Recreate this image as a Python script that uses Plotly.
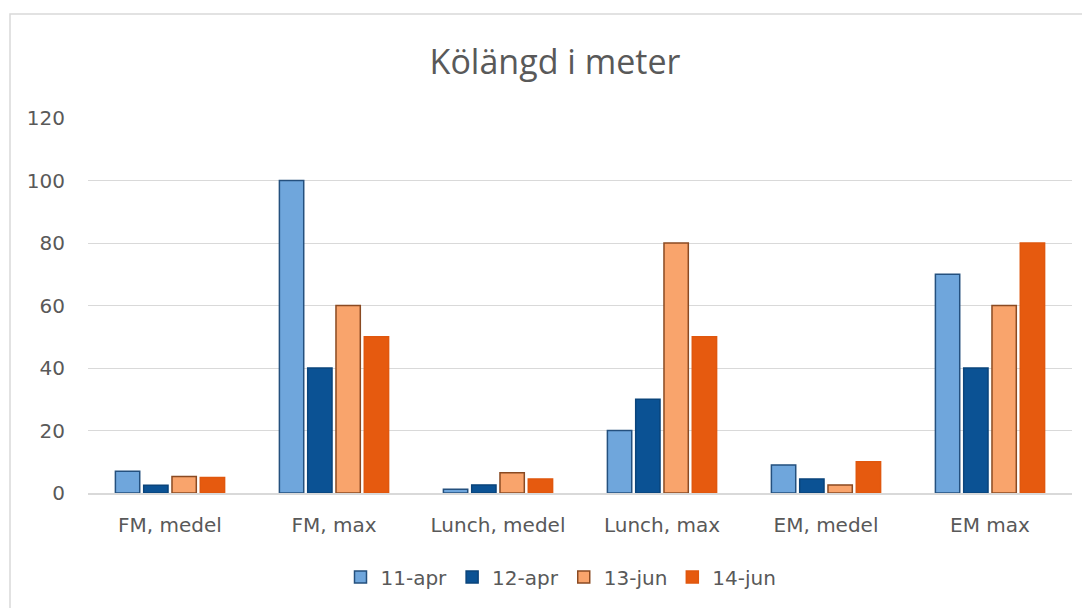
import plotly.graph_objects as go

categories = ["FM, medel", "FM, max", "Lunch, medel", "Lunch, max", "EM, medel", "EM max"]
series_names = ["11-apr", "12-apr", "13-jun", "14-jun"]
s_11apr = [7, 100, 1.2, 20, 9, 70]
s_12apr = [2.5, 40, 2.6, 30, 4.5, 40]
s_13jun = [5.3, 60, 6.5, 80, 2.6, 60]
s_14jun = [5, 50, 4.5, 50, 10, 80]
y_ticks = [0, 20, 40, 60, 80, 100, 120]

series_values = [s_11apr, s_12apr, s_13jun, s_14jun]
fills = ["#6FA6DC", "#0B5294", "#F9A46C", "#E65A0F"]
borders = ["#24507E", "#0A447B", "#8A4A22", "#E0570E"]

fig = go.Figure()
for name, vals, fc, bc in zip(series_names, series_values, fills, borders):
    fig.add_trace(go.Bar(
        x=categories, y=vals, name=name,
        marker=dict(color=fc, line=dict(color=bc, width=1.5)),
    ))

# page body adds an 8px offset, so the figure is sized to fit the window
W, H = 1082, 600
ml, mr, mt, mb = 80, 18, 110, 111
pw = W - ml - mr
ph = H - mt - mb

txt = "#595959"
fam = "DejaVu Sans, sans-serif"

fig.update_layout(
    width=W, height=H,
    margin=dict(l=ml, r=mr, t=mt, b=mb),
    paper_bgcolor="white", plot_bgcolor="white",
    barmode="group", bargap=0.31, bargroupgap=0.14,
    font=dict(family=fam, color=txt, size=20),
    title=dict(text="Kölängd i meter", x=547 / W, xanchor="center", y=1 - 54 / H, yanchor="middle",
               font=dict(size=34, color=txt, family="Open Sans, sans-serif")),
    legend=dict(orientation="h", x=(553 - ml) / pw, xanchor="center", y=-(574 - (mt + ph)) / ph,
                yanchor="middle", font=dict(size=20, color=txt, family=fam), itemwidth=30,
                traceorder="normal"),
    showlegend=True,
)
fig.update_xaxes(showgrid=False, showline=True, linecolor="#D9D9D9", linewidth=1.5,
                 ticks="", tickfont=dict(size=20, color=txt, family=fam), ticklabelstandoff=13)
fig.update_yaxes(range=[0, 120], tickvals=y_ticks, showgrid=True, gridcolor="#D9D9D9", gridwidth=1,
                 zeroline=False, showline=False, ticks="", tickfont=dict(size=20, color=txt, family=fam),
                 ticklabelstandoff=22)

# outer chart border
fig.add_shape(type="rect", xref="paper", yref="paper",
              x0=-(ml - 2) / pw, x1=1 + (mr + 10) / pw,
              y0=-(mb + 10) / ph, y1=1 + (mt - 5) / ph,
              line=dict(color="#D9D9D9", width=1.5), fillcolor="rgba(0,0,0,0)", layer="below")

fig.write_html("out.html")
